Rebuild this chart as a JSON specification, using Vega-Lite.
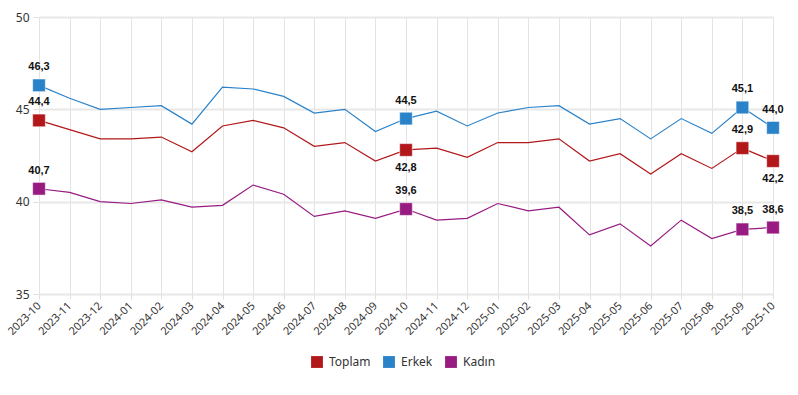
{
  "$schema": "https://vega.github.io/schema/vega-lite/v6.json",
  "width": 734,
  "height": 277,
  "autosize": {"type": "none"},
  "padding": {"left": 39, "top": 17, "right": 25, "bottom": 101},
  "background": "white",
  "config": {
    "locale": {"number": {"decimal": ",", "thousands": ".", "grouping": [3], "currency": ["", " TL"]}},
    "view": {"stroke": null},
    "font": "Noto Sans"
  },
  "data": {
    "values": [
      {"month": "2023-10", "series": "Toplam", "value": 44.4},
      {"month": "2023-11", "series": "Toplam", "value": 43.9},
      {"month": "2023-12", "series": "Toplam", "value": 43.4},
      {"month": "2024-01", "series": "Toplam", "value": 43.4},
      {"month": "2024-02", "series": "Toplam", "value": 43.5},
      {"month": "2024-03", "series": "Toplam", "value": 42.7},
      {"month": "2024-04", "series": "Toplam", "value": 44.1},
      {"month": "2024-05", "series": "Toplam", "value": 44.4},
      {"month": "2024-06", "series": "Toplam", "value": 44.0},
      {"month": "2024-07", "series": "Toplam", "value": 43.0},
      {"month": "2024-08", "series": "Toplam", "value": 43.2},
      {"month": "2024-09", "series": "Toplam", "value": 42.2},
      {"month": "2024-10", "series": "Toplam", "value": 42.8},
      {"month": "2024-11", "series": "Toplam", "value": 42.9},
      {"month": "2024-12", "series": "Toplam", "value": 42.4},
      {"month": "2025-01", "series": "Toplam", "value": 43.2},
      {"month": "2025-02", "series": "Toplam", "value": 43.2},
      {"month": "2025-03", "series": "Toplam", "value": 43.4},
      {"month": "2025-04", "series": "Toplam", "value": 42.2},
      {"month": "2025-05", "series": "Toplam", "value": 42.6},
      {"month": "2025-06", "series": "Toplam", "value": 41.5},
      {"month": "2025-07", "series": "Toplam", "value": 42.6},
      {"month": "2025-08", "series": "Toplam", "value": 41.8},
      {"month": "2025-09", "series": "Toplam", "value": 42.9},
      {"month": "2025-10", "series": "Toplam", "value": 42.2},
      {"month": "2023-10", "series": "Erkek", "value": 46.3},
      {"month": "2023-11", "series": "Erkek", "value": 45.6},
      {"month": "2023-12", "series": "Erkek", "value": 45.0},
      {"month": "2024-01", "series": "Erkek", "value": 45.1},
      {"month": "2024-02", "series": "Erkek", "value": 45.2},
      {"month": "2024-03", "series": "Erkek", "value": 44.2},
      {"month": "2024-04", "series": "Erkek", "value": 46.2},
      {"month": "2024-05", "series": "Erkek", "value": 46.1},
      {"month": "2024-06", "series": "Erkek", "value": 45.7},
      {"month": "2024-07", "series": "Erkek", "value": 44.8},
      {"month": "2024-08", "series": "Erkek", "value": 45.0},
      {"month": "2024-09", "series": "Erkek", "value": 43.8},
      {"month": "2024-10", "series": "Erkek", "value": 44.5},
      {"month": "2024-11", "series": "Erkek", "value": 44.9},
      {"month": "2024-12", "series": "Erkek", "value": 44.1},
      {"month": "2025-01", "series": "Erkek", "value": 44.8},
      {"month": "2025-02", "series": "Erkek", "value": 45.1},
      {"month": "2025-03", "series": "Erkek", "value": 45.2},
      {"month": "2025-04", "series": "Erkek", "value": 44.2},
      {"month": "2025-05", "series": "Erkek", "value": 44.5},
      {"month": "2025-06", "series": "Erkek", "value": 43.4},
      {"month": "2025-07", "series": "Erkek", "value": 44.5},
      {"month": "2025-08", "series": "Erkek", "value": 43.7},
      {"month": "2025-09", "series": "Erkek", "value": 45.1},
      {"month": "2025-10", "series": "Erkek", "value": 44.0},
      {"month": "2023-10", "series": "Kadın", "value": 40.7},
      {"month": "2023-11", "series": "Kadın", "value": 40.5},
      {"month": "2023-12", "series": "Kadın", "value": 40.0},
      {"month": "2024-01", "series": "Kadın", "value": 39.9},
      {"month": "2024-02", "series": "Kadın", "value": 40.1},
      {"month": "2024-03", "series": "Kadın", "value": 39.7},
      {"month": "2024-04", "series": "Kadın", "value": 39.8},
      {"month": "2024-05", "series": "Kadın", "value": 40.9},
      {"month": "2024-06", "series": "Kadın", "value": 40.4},
      {"month": "2024-07", "series": "Kadın", "value": 39.2},
      {"month": "2024-08", "series": "Kadın", "value": 39.5},
      {"month": "2024-09", "series": "Kadın", "value": 39.1},
      {"month": "2024-10", "series": "Kadın", "value": 39.6},
      {"month": "2024-11", "series": "Kadın", "value": 39.0},
      {"month": "2024-12", "series": "Kadın", "value": 39.1},
      {"month": "2025-01", "series": "Kadın", "value": 39.9},
      {"month": "2025-02", "series": "Kadın", "value": 39.5},
      {"month": "2025-03", "series": "Kadın", "value": 39.7},
      {"month": "2025-04", "series": "Kadın", "value": 38.2},
      {"month": "2025-05", "series": "Kadın", "value": 38.8},
      {"month": "2025-06", "series": "Kadın", "value": 37.6},
      {"month": "2025-07", "series": "Kadın", "value": 39.0},
      {"month": "2025-08", "series": "Kadın", "value": 38.0},
      {"month": "2025-09", "series": "Kadın", "value": 38.5},
      {"month": "2025-10", "series": "Kadın", "value": 38.6}
    ]
  },
  "encoding": {
    "x": {
      "field": "month", "type": "ordinal",
      "scale": {"type": "point", "padding": 0},
      "axis": {
        "title": null, "labelAngle": -45, "labelAlign": "right", "labelBaseline": "middle",
        "labelFontSize": 11, "labelColor": "#333333", "labelPadding": 5,
        "grid": true, "gridColor": "#e3e3e3", "gridWidth": 1,
        "domain": false, "tickColor": "#e0e0e0", "tickSize": 5
      }
    },
    "y": {
      "field": "value", "type": "quantitative",
      "scale": {"domain": [35, 50], "nice": false, "zero": false},
      "axis": {
        "title": null, "values": [35, 40, 45, 50], "labelFontSize": 12, "labelColor": "#333333",
        "grid": true, "gridColor": "#e8e8e8", "gridWidth": 2,
        "domain": false, "tickColor": "#e0e0e0", "tickSize": 6, "labelPadding": 4
      }
    },
    "color": {
      "field": "series", "type": "nominal",
      "scale": {"domain": ["Toplam", "Erkek", "Kadın"], "range": ["#b2171a", "#2a82c9", "#971b81"]},
      "legend": {
        "title": null, "orient": "none", "direction": "horizontal",
        "legendX": 272, "legendY": 339,
        "symbolType": "square", "symbolSize": 140, "symbolStrokeWidth": 0,
        "labelFontSize": 12, "labelColor": "#333333", "columnPadding": 12, "labelOffset": 6
      }
    }
  },
  "layer": [
    {"mark": {"type": "line", "strokeWidth": 1.2}, "encoding": {"detail": {"field": "series"}}},
    {
      "transform": [{"filter": {"field": "month", "oneOf": ["2023-10", "2024-10", "2025-09", "2025-10"]}}],
      "mark": {"type": "point", "shape": "square", "filled": true, "size": 160, "opacity": 1, "stroke": "white", "strokeWidth": 0.5}
    },
    {
      "transform": [
        {"filter": {"field": "month", "oneOf": ["2023-10", "2024-10", "2025-09", "2025-10"]}},
        {"filter": "datum.series != 'Toplam' || datum.month == '2023-10' || datum.month == '2025-09'"}
      ],
      "mark": {"type": "text", "dy": -18, "fontWeight": "bold", "fontSize": 11, "font": "Liberation Sans", "color": "#111111"},
      "encoding": {"text": {"field": "value", "type": "quantitative", "format": ".1f"}, "color": {"value": "#111111"}}
    },
    {
      "transform": [
        {"filter": {"field": "month", "oneOf": ["2024-10", "2025-10"]}},
        {"filter": "datum.series == 'Toplam'"}
      ],
      "mark": {"type": "text", "dy": 18, "fontWeight": "bold", "fontSize": 11, "font": "Liberation Sans", "color": "#111111"},
      "encoding": {"text": {"field": "value", "type": "quantitative", "format": ".1f"}, "color": {"value": "#111111"}}
    }
  ]
}
